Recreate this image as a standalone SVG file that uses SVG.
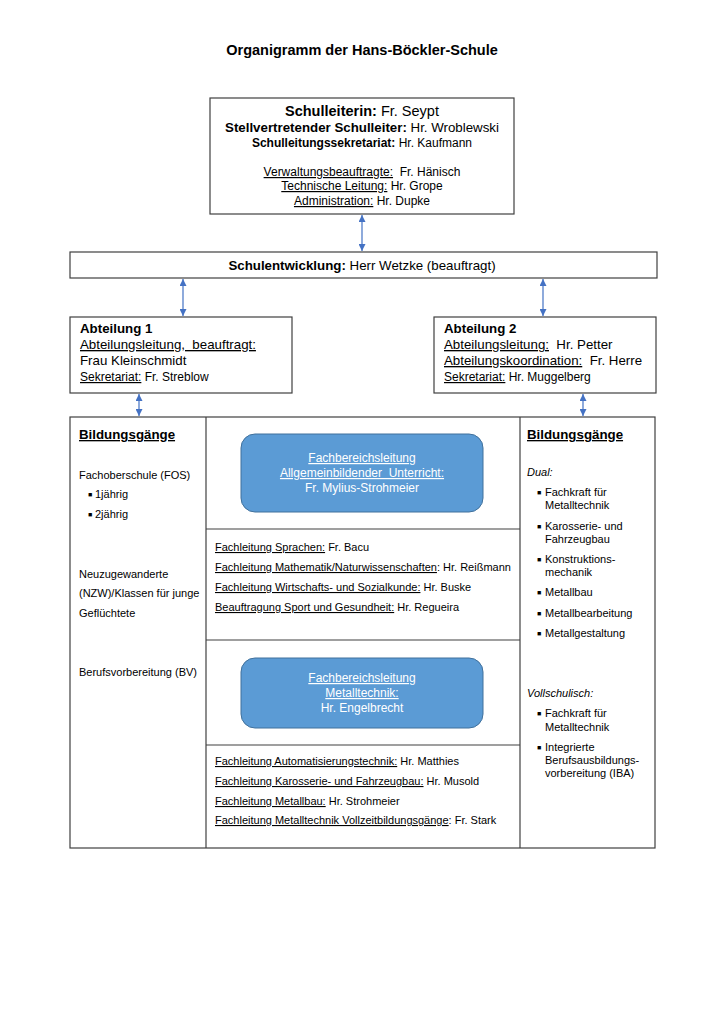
<svg xmlns="http://www.w3.org/2000/svg" width="724" height="1024" viewBox="0 0 724 1024">
<style>
text{font-family:"Liberation Sans",Arial,sans-serif;fill:#000;white-space:pre}
.box{fill:#fff;stroke:#404040;stroke-width:1.2}
.ln{stroke:#404040;stroke-width:1.2;fill:none}
.blue{fill:#5B9BD5;stroke:#41719C;stroke-width:1}
.b{font-weight:bold}
.u{text-decoration:underline}
.c{text-anchor:middle}
.w{fill:#fff}
.s{font-size:11px}
.m{font-size:13.3px}
.i{font-style:italic}
.bl{font-size:7px}
.conn{stroke:#4472C4;stroke-width:1.2;fill:none;marker-start:url(#ah);marker-end:url(#ah)}
</style>
<defs>
<marker id="ah" viewBox="0 0 10 10" refX="10" refY="5" markerWidth="7" markerHeight="7" markerUnits="userSpaceOnUse" orient="auto-start-reverse">
<path d="M0,0 L10,5 L0,10 z" fill="#4472C4"/>
</marker>
</defs>
<rect width="724" height="1024" fill="#fff"/>
<text x="362" y="55" class="b c" font-size="14.5">Organigramm der Hans-Böckler-Schule</text>

<g id="connectors">
<line class="conn" x1="362" y1="215" x2="362" y2="251"/>
<line class="conn" x1="183" y1="279" x2="183" y2="316"/>
<line class="conn" x1="543" y1="279" x2="543" y2="316"/>
<line class="conn" x1="139" y1="394" x2="139" y2="416"/>
<line class="conn" x1="583" y1="394" x2="583" y2="416"/>
</g>

<g id="schulleitung">
<rect class="box" x="210" y="98" width="304" height="116"/>
<text x="362" y="116" class="c" font-size="14.5"><tspan class="b">Schulleiterin:</tspan> Fr. Seypt</text>
<text x="362" y="132" class="c" font-size="13.3"><tspan class="b">Stellvertretender Schulleiter:</tspan> Hr. Wroblewski</text>
<text x="362" y="147" class="c" font-size="12"><tspan class="b">Schulleitungssekretariat:</tspan> Hr. Kaufmann</text>
<text x="362" y="176" class="c" font-size="12"><tspan class="u">Verwaltungsbeauftragte:</tspan>  Fr. Hänisch</text>
<text x="362" y="190" class="c" font-size="12"><tspan class="u">Technische Leitung:</tspan> Hr. Grope</text>
<text x="362" y="205" class="c" font-size="12"><tspan class="u">Administration:</tspan> Hr. Dupke</text>
</g>

<g id="schulentwicklung">
<rect class="box" x="70" y="252" width="587" height="26"/>
<text x="362" y="270" class="c m"><tspan class="b">Schulentwicklung:</tspan> Herr Wetzke (beauftragt)</text>
</g>

<g id="abteilung1">
<rect class="box" x="70" y="317" width="222" height="76"/>
<text x="80" y="333" class="m b">Abteilung 1</text>
<text x="80" y="349" class="m u">Abteilungsleitung,  beauftragt:</text>
<text x="80" y="365" class="m">Frau Kleinschmidt</text>
<text x="80" y="381" font-size="12"><tspan class="u">Sekretariat:</tspan> Fr. Streblow</text>
</g>

<g id="abteilung2">
<rect class="box" x="434" y="317" width="222" height="76"/>
<text x="444" y="333" class="m b">Abteilung 2</text>
<text x="444" y="349" class="m"><tspan class="u">Abteilungsleitung:</tspan>  Hr. Petter</text>
<text x="444" y="365" class="m"><tspan class="u">Abteilungskoordination:</tspan>  Fr. Herre</text>
<text x="444" y="381" font-size="12"><tspan class="u">Sekretariat:</tspan> Hr. Muggelberg</text>
</g>

<g id="bildungsbereich">
<rect class="box" x="70" y="417" width="585" height="431"/>
<line class="ln" x1="206" y1="417" x2="206" y2="848"/>
<line class="ln" x1="520" y1="417" x2="520" y2="848"/>
<line class="ln" x1="206" y1="529" x2="520" y2="529"/>
<line class="ln" x1="206" y1="640" x2="520" y2="640"/>
<line class="ln" x1="206" y1="745" x2="520" y2="745"/>
</g>

<g id="bildungsgaenge-links">
<text x="79" y="439" class="m b u">Bildungsgänge</text>
<text x="79" y="479" class="s">Fachoberschule (FOS)</text>
<text x="88" y="497" class="bl">■</text><text x="95" y="498" class="s">1jährig</text>
<text x="88" y="517" class="bl">■</text><text x="95" y="518" class="s">2jährig</text>
<text x="79" y="578" class="s">Neuzugewanderte</text>
<text x="79" y="597" class="s">(NZW)/Klassen für junge</text>
<text x="79" y="617" class="s">Geflüchtete</text>
<text x="79" y="676" class="s">Berufsvorbereitung (BV)</text>
</g>

<g id="fb-allgemein">
<rect class="blue" x="241" y="434" width="242" height="78" rx="14"/>
<text x="362" y="462" class="c w u" font-size="12">Fachbereichsleitung</text>
<text x="362" y="477" class="c w u" font-size="12">Allgemeinbildender  Unterricht:</text>
<text x="362" y="492" class="c w" font-size="12">Fr. Mylius-Strohmeier</text>
</g>

<g id="fachleitungen-allgemein">
<text x="215" y="551" class="s"><tspan class="u">Fachleitung Sprachen:</tspan> Fr. Bacu</text>
<text x="215" y="571" class="s"><tspan class="u">Fachleitung Mathematik/Naturwissenschaften</tspan>: Hr. Reißmann</text>
<text x="215" y="591" class="s"><tspan class="u">Fachleitung Wirtschafts- und Sozialkunde:</tspan> Hr. Buske</text>
<text x="215" y="611" class="s"><tspan class="u">Beauftragung Sport und Gesundheit:</tspan> Hr. Regueira</text>
</g>

<g id="fb-metall">
<rect class="blue" x="241" y="658" width="242" height="70" rx="14"/>
<text x="362" y="682" class="c w u" font-size="12">Fachbereichsleitung</text>
<text x="362" y="697" class="c w u" font-size="12">Metalltechnik:</text>
<text x="362" y="712" class="c w" font-size="12">Hr. Engelbrecht</text>
</g>

<g id="fachleitungen-metall">
<text x="215" y="765" class="s"><tspan class="u">Fachleitung Automatisierungstechnik:</tspan> Hr. Matthies</text>
<text x="215" y="785" class="s"><tspan class="u">Fachleitung Karosserie- und Fahrzeugbau:</tspan> Hr. Musold</text>
<text x="215" y="805" class="s"><tspan class="u">Fachleitung Metallbau:</tspan> Hr. Strohmeier</text>
<text x="215" y="824" class="s"><tspan class="u">Fachleitung Metalltechnik Vollzeitbildungsgänge</tspan>: Fr. Stark</text>
</g>

<g id="bildungsgaenge-rechts">
<text x="527" y="439" class="m b u">Bildungsgänge</text>
<text x="527" y="476" class="s i">Dual:</text>
<text x="537" y="495" class="bl">■</text><text x="545" y="496" class="s">Fachkraft für</text>
<text x="545" y="509" class="s">Metalltechnik</text>
<text x="537" y="529" class="bl">■</text><text x="545" y="530" class="s">Karosserie- und</text>
<text x="545" y="543" class="s">Fahrzeugbau</text>
<text x="537" y="562" class="bl">■</text><text x="545" y="563" class="s">Konstruktions-</text>
<text x="545" y="576" class="s">mechanik</text>
<text x="537" y="595" class="bl">■</text><text x="545" y="596" class="s">Metallbau</text>
<text x="537" y="616" class="bl">■</text><text x="545" y="617" class="s">Metallbearbeitung</text>
<text x="537" y="636" class="bl">■</text><text x="545" y="637" class="s">Metallgestaltung</text>
<text x="527" y="697" class="s i">Vollschulisch:</text>
<text x="537" y="716" class="bl">■</text><text x="545" y="717" class="s">Fachkraft für</text>
<text x="545" y="731" class="s">Metalltechnik</text>
<text x="537" y="750" class="bl">■</text><text x="545" y="751" class="s">Integrierte</text>
<text x="545" y="764" class="s">Berufsausbildungs-</text>
<text x="545" y="777" class="s">vorbereitung (IBA)</text>
</g>
</svg>
